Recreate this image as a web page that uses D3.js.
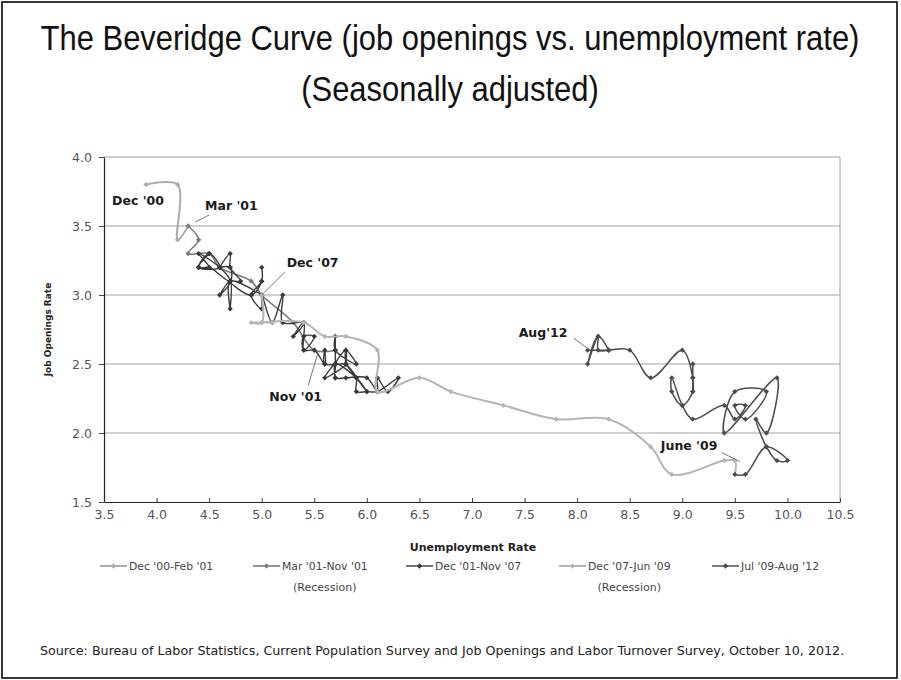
<!DOCTYPE html>
<html>
<head>
<meta charset="utf-8">
<script src="https://cdn.jsdelivr.net/npm/d3@7"></script>
<style>
  body { margin: 0; background: #fff; }
</style>
</head>
<body>
<div id="chart"></div>
<script>
// 图例名称
const seriesNames = ["Dec '00-Feb '01", "Mar '01-Nov '01", "Dec '01-Nov '07", "Dec '07-Jun '09", "Jul '09-Aug '12"];
const recession = [false, true, false, true, false];

// Dec '00 - Feb '01
const unempA = [3.9, 4.2, 4.2];
const openA = [3.8, 3.8, 3.4];
// Mar '01 - Nov '01
const unempB = [4.3, 4.4, 4.3, 4.5, 4.6, 4.9, 5.0, 5.3, 5.5];
const openB = [3.5, 3.4, 3.3, 3.3, 3.2, 3.1, 3.0, 2.8, 2.6];
// Dec '01 - Nov '07
const unempC = [5.7,
  5.7, 5.7, 5.7, 5.9, 5.8, 5.8, 5.8, 5.7, 5.7, 5.7, 5.9, 6.0,
  5.8, 5.9, 5.9, 6.0, 6.1, 6.3, 6.2, 6.1, 6.1, 6.0, 5.8, 5.7,
  5.7, 5.6, 5.8, 5.6, 5.6, 5.6, 5.5, 5.4, 5.4, 5.5, 5.4, 5.4,
  5.3, 5.4, 5.2, 5.2, 5.1, 5.0, 5.0, 4.9, 5.0, 5.0, 5.0, 4.9,
  4.7, 4.8, 4.7, 4.7, 4.6, 4.6, 4.7, 4.7, 4.5, 4.4, 4.5, 4.4,
  4.6, 4.5, 4.4, 4.5, 4.4, 4.6, 4.7, 4.6, 4.7, 4.7, 4.7];
const openC = [2.6,
  2.5, 2.7, 2.6, 2.5, 2.6, 2.5, 2.6, 2.5, 2.4, 2.5, 2.4, 2.3,
  2.5, 2.4, 2.3, 2.3, 2.3, 2.4, 2.3, 2.4, 2.3, 2.4, 2.4, 2.4,
  2.5, 2.4, 2.5, 2.5, 2.6, 2.5, 2.6, 2.6, 2.7, 2.7, 2.6, 2.8,
  2.7, 2.8, 2.8, 3.0, 2.8, 3.0, 2.9, 3.0, 3.1, 3.2, 3.1, 3.0,
  3.1, 3.1, 3.2, 3.3, 3.2, 3.2, 3.2, 3.1, 3.2, 3.2, 3.3, 3.2,
  3.2, 3.3, 3.2, 3.2, 3.3, 3.2, 3.1, 3.0, 3.1, 2.9, 3.1];
// Dec '07 - Jun '09
const unempD = [5.0, 5.0, 4.9, 5.1, 5.0, 5.4, 5.6, 5.8, 6.1, 6.1, 6.5, 6.8, 7.3, 7.8, 8.3, 8.7, 8.9, 9.4, 9.5];
const openD = [3.0, 2.8, 2.8, 2.8, 2.8, 2.8, 2.7, 2.7, 2.6, 2.3, 2.4, 2.3, 2.2, 2.1, 2.1, 1.9, 1.7, 1.8, 1.8];
// Jul '09 - Aug '12
const unempE = [9.5, 9.6, 9.8, 10.0, 9.9, 9.8,
  9.7, 9.8, 9.9, 9.4, 9.5, 9.8, 9.6, 9.5, 9.6, 9.5, 9.4, 9.1,
  9.0, 8.9, 8.9, 9.0, 9.1, 9.1, 9.1, 9.1, 9.1, 9.0, 8.7, 8.5,
  8.3, 8.3, 8.2, 8.1, 8.2, 8.2, 8.3, 8.1];
const openE = [1.7, 1.7, 1.9, 1.8, 1.8, 1.9,
  2.1, 2.0, 2.4, 2.0, 2.3, 2.3, 2.1, 2.2, 2.2, 2.1, 2.2, 2.1,
  2.2, 2.4, 2.3, 2.2, 2.3, 2.4, 2.5, 2.3, 2.4, 2.6, 2.4, 2.6,
  2.6, 2.6, 2.7, 2.5, 2.7, 2.6, 2.6, 2.6];

// 坐标轴刻度
const xTicks = [3.5, 4.0, 4.5, 5.0, 5.5, 6.0, 6.5, 7.0, 7.5, 8.0, 8.5, 9.0, 9.5, 10.0, 10.5];
const yTicks = [1.5, 2.0, 2.5, 3.0, 3.5, 4.0];

// 标注
const noteText = ["Dec '00", "Mar '01", "Dec '07", "Nov '01", "Aug'12", "June '09"];
const noteU = [3.9, 4.3, 5.0, 5.5, 8.1, 9.5];
const noteV = [3.8, 3.5, 3.0, 2.6, 2.6, 1.8];

const width = 901, height = 680;
const colors = ["#ababab", "#7a7a7a", "#3a3a3a", "#b5b5b5", "#4c4c4c"];
const lineWidths = [2, 1.6, 1.4, 2, 1.5];

const svg = d3.select("#chart").append("svg")
  .attr("width", width)
  .attr("height", height)
  .style("font-family", "'DejaVu Sans', Verdana, sans-serif");

// 外框
svg.append("rect")
  .attr("x", 2).attr("y", 2)
  .attr("width", 895).attr("height", 676)
  .attr("fill", "#fff")
  .attr("stroke", "#222")
  .attr("stroke-width", 1.8);

// 标题（字形偏窄，横向压缩）
const titleLines = ["The Beveridge Curve (job openings vs. unemployment rate)", "(Seasonally adjusted)"];
const titleBase = [50, 101];
titleLines.forEach((t, i) => {
  svg.append("text")
    .attr("transform", `translate(450,${titleBase[i]}) scale(0.86,1)`)
    .attr("text-anchor", "middle")
    .style("font-family", "'Liberation Sans', Arial, sans-serif")
    .style("font-size", "36px")
    .attr("fill", "#111")
    .text(t);
});

const x = d3.scaleLinear().domain([3.5, 10.5]).range([104, 840]);
const y = d3.scaleLinear().domain([1.5, 4.0]).range([502, 157]);

// 网格线
svg.append("g")
  .selectAll("line")
  .data(yTicks.slice(1))
  .join("line")
  .attr("x1", x(3.5)).attr("x2", x(10.5))
  .attr("y1", d => y(d)).attr("y2", d => y(d))
  .attr("stroke", "#a0a0a0")
  .attr("stroke-width", 1);
svg.append("line")
  .attr("x1", x(10.5)).attr("x2", x(10.5))
  .attr("y1", y(4.0)).attr("y2", y(1.5))
  .attr("stroke", "#a0a0a0");

// 坐标轴
const xAxis = svg.append("g")
  .attr("transform", `translate(0,${y(1.5)})`)
  .call(d3.axisBottom(x).tickValues(xTicks).tickFormat(d3.format(".1f"))
    .tickSizeInner(-4).tickSizeOuter(0).tickPadding(8));
const yAxis = svg.append("g")
  .attr("transform", `translate(${x(3.5)},0)`)
  .call(d3.axisLeft(y).tickValues(yTicks).tickFormat(d3.format(".1f"))
    .tickSizeInner(5).tickSizeOuter(0).tickPadding(7));
[xAxis, yAxis].forEach(g => {
  g.select(".domain").attr("stroke", "#222").attr("stroke-width", 1.2);
  g.selectAll(".tick line").attr("stroke", "#444");
  g.selectAll(".tick text")
    .style("font-family", "'DejaVu Sans', Verdana, sans-serif")
    .style("font-size", "12.5px")
    .attr("fill", "#555");
});

// 坐标轴标题
svg.append("text")
  .attr("x", 473).attr("y", 551)
  .attr("text-anchor", "middle")
  .style("font-size", "11px")
  .style("font-weight", "bold")
  .attr("fill", "#222")
  .text("Unemployment Rate");
svg.append("text")
  .attr("transform", `translate(51,${(y(1.5) + y(4.0)) / 2}) rotate(-90)`)
  .attr("text-anchor", "middle")
  .style("font-size", "9px")
  .style("font-weight", "bold")
  .attr("fill", "#222")
  .text("Job Openings Rate");

// 组装系列，每段末尾接上下一段的起点
const raw = [[unempA, openA], [unempB, openB], [unempC, openC], [unempD, openD], [unempE, openE]];
const series = raw.map(([u, v], i) => {
  const pts = u.map((d, j) => ({ u: d, v: v[j] }));
  const next = raw[i + 1];
  const linePts = next ? pts.concat([{ u: next[0][0], v: next[1][0] }]) : pts;
  return { name: seriesNames[i], pts, linePts, color: colors[i], lw: lineWidths[i] };
});

const line = d3.line()
  .x(d => x(d.u))
  .y(d => y(d.v))
  .curve(d3.curveCatmullRom.alpha(0.5));

const diamond = d3.symbol(d3.symbolSquare, 14);

const plot = svg.append("g");
series.forEach(s => {
  const g = plot.append("g");
  g.append("path")
    .datum(s.linePts)
    .attr("d", line)
    .attr("fill", "none")
    .attr("stroke", s.color)
    .attr("stroke-width", s.lw)
    .attr("stroke-linejoin", "round");
  g.selectAll("path.pt")
    .data(s.pts)
    .join("path")
    .attr("class", "pt")
    .attr("d", diamond)
    .attr("transform", d => `translate(${x(d.u)},${y(d.v)}) rotate(45)`)
    .attr("fill", s.color);
});

// 标注文字与指引线（偏移量单位为像素）
const noteLayout = [
  { dx: -34, dy: 20, line: null },
  { dx: 17, dy: -16, line: [21, -11, 7, -4] },
  { dx: 25, dy: -28, line: [23, -23, 0, 0] },
  { dx: -45, dy: 51, line: [-6, 35, 3, 5] },
  { dx: -69, dy: -13, line: [-14, -12, 1, -1] },
  { dx: -74, dy: -11, line: [-13, -8, 5, 1] }
];
const notes = svg.append("g");
noteText.forEach((t, i) => {
  const px = x(noteU[i]), py = y(noteV[i]);
  const l = noteLayout[i];
  notes.append("text")
    .attr("x", px + l.dx).attr("y", py + l.dy)
    .style("font-size", "12.5px")
    .style("font-weight", "bold")
    .attr("fill", "#1a1a1a")
    .text(t);
  if (l.line) {
    notes.append("line")
      .attr("x1", px + l.line[0]).attr("y1", py + l.line[1])
      .attr("x2", px + l.line[2]).attr("y2", py + l.line[3])
      .attr("stroke", "#777").attr("stroke-width", 1);
  }
});

// 图例
const legend = svg.append("g").attr("transform", "translate(100,566)");
series.forEach((s, i) => {
  const g = legend.append("g").attr("transform", `translate(${i * 153},0)`);
  g.append("line")
    .attr("x1", 0).attr("x2", 27)
    .attr("stroke", s.color).attr("stroke-width", s.lw);
  g.append("path")
    .attr("d", diamond)
    .attr("transform", "translate(13.5,0) rotate(45)")
    .attr("fill", s.color);
  const txt = g.append("text")
    .attr("x", 29).attr("y", 4)
    .style("font-size", "10.8px")
    .attr("fill", "#444")
    .text(s.name);
  if (recession[i]) {
    const w = txt.node().getComputedTextLength();
    g.append("text")
      .attr("x", 29 + w / 2).attr("y", 25)
      .attr("text-anchor", "middle")
      .style("font-size", "11px")
      .attr("fill", "#444")
      .text("(Recession)");
  }
});

// 数据来源
svg.append("text")
  .attr("x", 40).attr("y", 655)
  .style("font-size", "12.7px")
  .attr("fill", "#222")
  .text("Source: Bureau of Labor Statistics, Current Population Survey and Job Openings and Labor Turnover Survey, October 10, 2012.");
</script>
</body>
</html>
